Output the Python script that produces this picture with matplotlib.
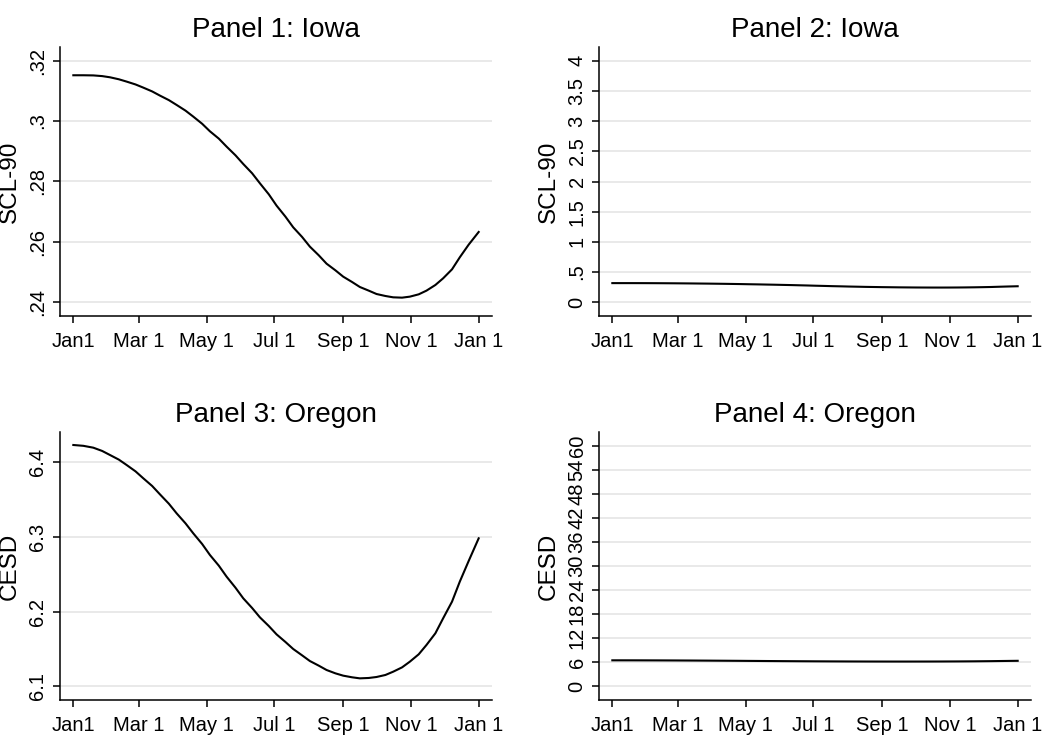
import matplotlib
matplotlib.use("Agg")
import matplotlib.pyplot as plt

plt.rcParams['font.family'] = ['Liberation Sans', 'DejaVu Sans']

# day of year for the points
days = [0, 9, 18, 26, 33, 41, 48, 56, 63, 71, 78, 86, 93, 101, 108, 116, 123,
        131, 138, 146, 153, 161, 168, 176, 183, 191, 198, 206, 213, 221, 228,
        236, 243, 251, 258, 266, 273, 281, 288, 296, 303, 311, 318, 326, 333,
        341, 348, 356, 365]

# Iowa, SCL-90
scl90 = [0.31515, 0.31515, 0.3151, 0.31487, 0.31448, 0.31382, 0.31305, 0.31211,
         0.31106, 0.3098, 0.30842, 0.30693, 0.30533, 0.30345, 0.30147, 0.2991,
         0.29661, 0.29419, 0.29154, 0.28867, 0.2858, 0.28272, 0.27941, 0.27577,
         0.27202, 0.26837, 0.26484, 0.26165, 0.25845, 0.25558, 0.25282, 0.25061,
         0.24852, 0.24675, 0.2451, 0.24389, 0.24278, 0.24212, 0.24168, 0.24157,
         0.2419, 0.24267, 0.24389, 0.24576, 0.24797, 0.25094, 0.25492, 0.25911,
         0.2633]

# Oregon, CESD
cesd = [6.4232, 6.4221, 6.4196, 6.4152, 6.4098, 6.4036, 6.3964, 6.3879, 6.3786,
        6.3683, 6.3571, 6.3446, 6.3317, 6.3183, 6.3049, 6.2906, 6.2759, 6.2616,
        6.2469, 6.2321, 6.2179, 6.2049, 6.1924, 6.1808, 6.1696, 6.1594, 6.1500,
        6.1415, 6.1339, 6.1277, 6.1219, 6.1174, 6.1143, 6.1121, 6.1107, 6.1112,
        6.1125, 6.1152, 6.1196, 6.1254, 6.1330, 6.1429, 6.1554, 6.1710, 6.1911,
        6.2134, 6.2402, 6.2679, 6.2982]

tick_days = [0, 59, 120, 181, 243, 304, 365]
tick_labels = ["Jan1", "Mar 1", "May 1", "Jul 1", "Sep 1", "Nov 1", "Jan 1"]

panels = [
    # title, ylabel, y, yticks, ytick labels, ylim, axes rect in px
    ("Panel 1: Iowa", "SCL-90", scl90,
     [0.24, 0.26, 0.28, 0.30, 0.32], [".24", ".26", ".28", ".3", ".32"],
     (0.2355, 0.3245), [60, 47, 432, 269]),
    ("Panel 2: Iowa", "SCL-90", scl90,
     [0, 0.5, 1, 1.5, 2, 2.5, 3, 3.5, 4],
     ["0", ".5", "1", "1.5", "2", "2.5", "3", "3.5", "4"],
     (-0.23, 4.23), [599, 47, 432, 269]),
    ("Panel 3: Oregon", "CESD", cesd,
     [6.1, 6.2, 6.3, 6.4], ["6.1", "6.2", "6.3", "6.4"],
     (6.0817, 6.4406), [60, 432, 432, 268]),
    ("Panel 4: Oregon", "CESD", cesd,
     list(range(0, 61, 6)), [str(v) for v in range(0, 61, 6)],
     (-3.5, 63.5), [599, 432, 432, 268]),
]

W, H = 1050, 736
fig = plt.figure(figsize=(W / 100, H / 100), dpi=100)

for title, ylab, y, yt, ytl, ylim, (l, t, w, h) in panels:
    ax = fig.add_axes([l / W, 1 - (t + h) / H, w / W, h / H])
    ax.plot(days, y, color="black", lw=1.5)
    ax.set_xlim(-12, 377)
    ax.set_ylim(*ylim)
    ax.set_xticks(tick_days)
    ax.set_xticklabels(tick_labels)
    ax.set_yticks(yt)
    ax.set_yticklabels(ytl, rotation=90, va="center")
    ax.tick_params(labelsize=14.5, length=5, width=1.1, color="black")
    ax.tick_params(axis="x", pad=6.5)
    ax.tick_params(axis="y", pad=4)
    ax.grid(axis="y", color="#e9e9e9", lw=1.4)
    ax.set_axisbelow(True)
    for s in ["top", "right"]:
        ax.spines[s].set_visible(False)
    for s in ["left", "bottom"]:
        ax.spines[s].set_linewidth(1.1)
    ax.set_title(title, fontsize=20, pad=7)
    ax.set_ylabel(ylab, fontsize=17.5, va="center")
    ax.yaxis.set_label_coords(-50 / w, 0.5)

fig.savefig("out.png", dpi=100, facecolor="white")
